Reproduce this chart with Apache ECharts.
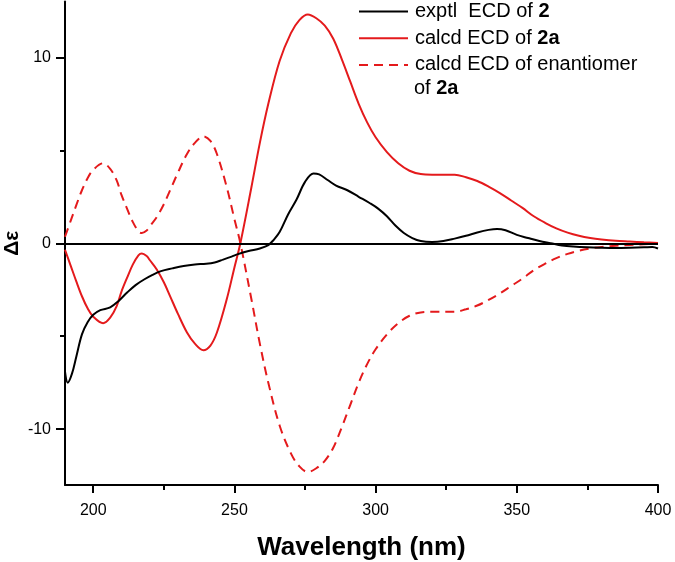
<!DOCTYPE html>
<html>
<head>
<meta charset="utf-8">
<script src="https://cdn.jsdelivr.net/npm/echarts@6/dist/echarts.min.js"></script>
<style>
html,body{margin:0;padding:0;background:#fff;}
#chart{width:675px;height:562px;}
</style>
</head>
<body>
<div id="chart"></div>
<script>
// ---- data ----
var xTickValues = [200, 250, 300, 350, 400];
var xMinorTickValues = [225, 275, 325, 375];
var yTickValues = [-10, 0, 10];
var yMinorTickValues = [-5, 5];

var exptlNm = [190,191,192.5,194,196,198,200,202.5,206,209,212,215,218,221,224,228,232,236,240,243,246,249,251,255,259,262,264,266,269,272,275,278,280,283,286,290,294,298,301,304,307,310,313,316,320,324,328,332,336,340,343,346,350,354,358,362,366,370,375,380,385,390,395,398,400];
var exptlVal = [-6.9,-7.5,-7.0,-6.1,-4.9,-4.25,-3.85,-3.6,-3.45,-3.1,-2.65,-2.25,-1.95,-1.7,-1.5,-1.35,-1.22,-1.14,-1.1,-1.03,-0.88,-0.72,-0.6,-0.42,-0.28,-0.1,0.2,0.6,1.55,2.35,3.3,3.75,3.7,3.4,3.1,2.85,2.5,2.15,1.85,1.45,0.95,0.55,0.28,0.12,0.07,0.12,0.25,0.4,0.58,0.72,0.77,0.7,0.45,0.28,0.12,0.0,-0.12,-0.18,-0.22,-0.24,-0.25,-0.24,-0.22,-0.2,-0.28];

var calcdNm = [190,192,194,196,198,200,203.5,206,208.3,210,212,214,216,217.2,219,220,222.5,225,227.2,230,233.2,236,239,241.5,243.8,247.3,250,252.1,256,259,262,266,270,273,276,279,282,285,288,291,294,297,300,304,308,312,316,320,328,332,336,340,344,348,352,356,360,364,368,372,376,380,385,390,395,400];
var calcdVal = [-0.35,-1.2,-2.05,-2.85,-3.5,-3.95,-4.3,-4.0,-3.38,-2.6,-1.85,-1.15,-0.65,-0.55,-0.7,-0.9,-1.41,-2.1,-2.84,-3.8,-4.8,-5.4,-5.75,-5.5,-4.8,-3.0,-1.3,0.0,3.0,5.4,7.5,9.8,11.3,12.0,12.3,12.1,11.7,11.0,9.9,8.7,7.5,6.5,5.7,4.9,4.3,3.9,3.72,3.69,3.69,3.55,3.35,3.05,2.7,2.3,1.9,1.45,1.1,0.8,0.57,0.4,0.28,0.2,0.13,0.09,0.05,0.02];
var enantVal = [0.35,1.2,2.05,2.85,3.5,3.95,4.3,4.0,3.38,2.6,1.85,1.15,0.65,0.55,0.7,0.9,1.41,2.1,2.84,3.8,4.8,5.4,5.75,5.5,4.8,3.0,1.3,0.0,-3.0,-5.4,-7.5,-9.8,-11.3,-12.0,-12.3,-12.1,-11.7,-11.0,-9.9,-8.7,-7.5,-6.5,-5.7,-4.9,-4.3,-3.9,-3.72,-3.69,-3.69,-3.55,-3.35,-3.05,-2.7,-2.3,-1.9,-1.45,-1.1,-0.8,-0.57,-0.4,-0.28,-0.2,-0.13,-0.09,-0.05,-0.02];

var seriesNames = ['exptl  ECD of 2', 'calcd ECD of 2a', 'calcd ECD of enantiomer'];

function pairs(xs, ys) { return xs.map(function (x, i) { return [x, ys[i]]; }); }

var FONT = "'Liberation Sans', Arial, sans-serif";
var RED = '#e41a1c';
var LFS = 20;

var chart = echarts.init(document.getElementById('chart'), null, {renderer: 'canvas'});
var option = {
  animation: false,
  backgroundColor: '#fff',
  textStyle: {fontFamily: FONT},
  grid: {left: 65, right: 17, top: 1.5, bottom: 77, containLabel: false, outerBoundsMode: 'none'},
  legend: {
    orient: 'vertical',
    left: 358, top: 1,
    padding: 0,
    itemWidth: 49, itemHeight: 14, itemGap: 5.7,
    data: seriesNames,
    itemStyle: {color: 'transparent', borderWidth: 0, opacity: 0},
    textStyle: {
      fontFamily: FONT, fontSize: LFS, color: '#000', lineHeight: 21, padding: [0,0,0,2],
      rich: {
        n: {fontFamily: FONT, fontSize: LFS, color: '#000', lineHeight: 21},
        b: {fontFamily: FONT, fontSize: LFS, color: '#000', fontWeight: 'bold', lineHeight: 21}
      }
    },
    formatter: function (name) {
      if (name === seriesNames[0]) return '{n|exptl  ECD of }{b|2}';
      if (name === seriesNames[1]) return '{n|calcd ECD of }{b|2a}';
      return '{n|calcd ECD of enantiomer}';
    }
  },
  graphic: [{
    type: 'text', left: 414, top: 78,
    style: {
      text: '{n|of }{b|2a}',
      rich: {
        n: {fontFamily: FONT, fontSize: LFS, fill: '#000'},
        b: {fontFamily: FONT, fontSize: LFS, fill: '#000', fontWeight: 'bold'}
      }
    }
  }],
  xAxis: [{
    type: 'value', min: 190, max: 400, position: 'bottom',
    name: 'Wavelength (nm)', nameLocation: 'middle', nameGap: 50, nameMoveOverlap: false,
    nameTextStyle: {fontFamily: FONT, fontSize: 26, fontWeight: 'bold', color: '#000'},
    axisLine: {show: true, onZero: false, lineStyle: {color: '#000', width: 2}},
    axisTick: {show: true, inside: false, length: 8, customValues: xTickValues, lineStyle: {color: '#000', width: 2}},
    axisLabel: {show: true, customValues: xTickValues, margin: 18, fontFamily: FONT, fontSize: 16, color: '#000'},
    splitLine: {show: false}
  }, {
    type: 'value', min: 190, max: 400, position: 'bottom',
    axisLine: {show: false, onZero: false},
    axisTick: {show: true, inside: false, length: 5, customValues: xMinorTickValues, lineStyle: {color: '#000', width: 2}},
    axisLabel: {show: false},
    splitLine: {show: false}
  }],
  yAxis: [{
    type: 'value', min: -13, max: 13, position: 'left',
    name: 'Δε', nameLocation: 'middle', nameGap: 42, nameRotate: 90, nameMoveOverlap: false,
    nameTextStyle: {fontFamily: FONT, fontSize: 21, fontWeight: 'bold', color: '#000'},
    axisLine: {show: true, onZero: false, lineStyle: {color: '#000', width: 2}},
    axisTick: {show: true, inside: false, length: 9, customValues: yTickValues, lineStyle: {color: '#000', width: 2}},
    axisLabel: {show: true, customValues: yTickValues, margin: 14, fontFamily: FONT, fontSize: 16, color: '#000'},
    splitLine: {show: false}
  }, {
    type: 'value', min: -13, max: 13, position: 'left',
    axisLine: {show: false, onZero: false},
    axisTick: {show: true, inside: false, length: 5, customValues: yMinorTickValues, lineStyle: {color: '#000', width: 2}},
    axisLabel: {show: false},
    splitLine: {show: false}
  }],
  series: [{
    name: seriesNames[0], type: 'line', xAxisIndex: 0, yAxisIndex: 0,
    data: pairs(exptlNm, exptlVal),
    showSymbol: false, symbol: 'none', smooth: 0.35, z: 4,
    lineStyle: {color: '#000', width: 2}, itemStyle: {color: '#000'},
    markLine: {
      silent: true, symbol: ['none', 'none'], label: {show: false},
      lineStyle: {color: '#000', width: 2, type: 'solid'},
      data: [{yAxis: 0}]
    }
  }, {
    name: seriesNames[1], type: 'line', xAxisIndex: 0, yAxisIndex: 0,
    data: pairs(calcdNm, calcdVal),
    showSymbol: false, symbol: 'none', smooth: 0.35, z: 3,
    lineStyle: {color: RED, width: 2}, itemStyle: {color: RED}
  }, {
    name: seriesNames[2], type: 'line', xAxisIndex: 0, yAxisIndex: 0,
    data: pairs(calcdNm, enantVal),
    showSymbol: false, symbol: 'none', smooth: 0.35, z: 3,
    lineStyle: {color: RED, width: 2, type: [9, 6]}, itemStyle: {color: RED}
  }]
};
chart.setOption(option);
</script>
</body>
</html>
